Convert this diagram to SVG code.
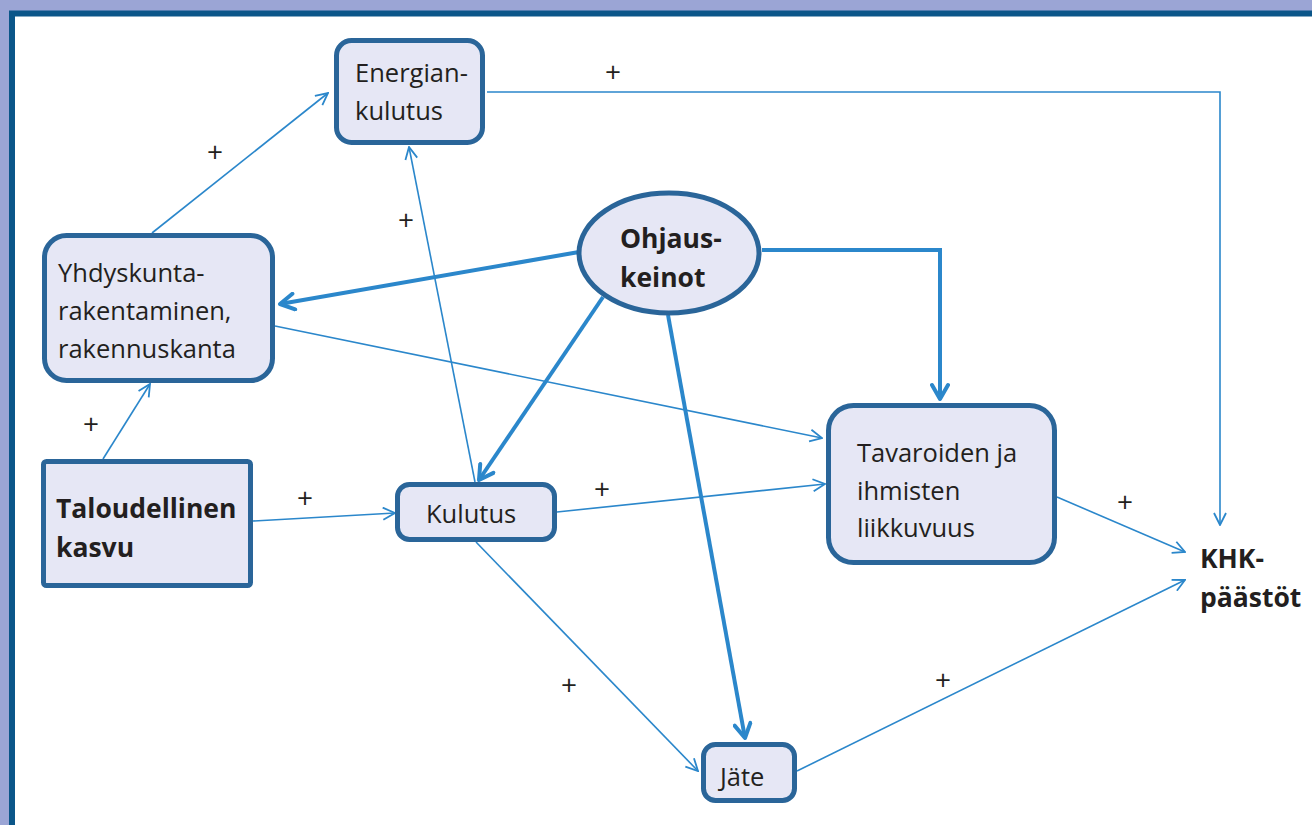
<svg xmlns="http://www.w3.org/2000/svg" width="1312" height="825" viewBox="0 0 1312 825">
<defs>
<style>
.box{fill:#E6E7F5;stroke:#2A6599;stroke-width:5}
.t{font-family:"Open Sans","Liberation Sans",sans-serif;font-size:25.5px;fill:#231F20}
.b{font-weight:bold;font-size:26.5px}
.p{font-family:"Open Sans","Liberation Sans",sans-serif;font-size:28px;fill:#231F20;text-anchor:middle}
.thin{fill:none;stroke:#2B87CB;stroke-width:1.6;marker-end:url(#ah)}
.thick{fill:none;stroke:#2B87CB;stroke-width:4;marker-end:url(#ahb)}
</style>
<marker id="ah" markerUnits="userSpaceOnUse" viewBox="0 0 14 14" refX="13" refY="7" markerWidth="14" markerHeight="14" orient="auto">
<path d="M1,1 L13,7 L1,13" fill="none" stroke="#2B87CB" stroke-width="1.8"/>
</marker>
<marker id="ahb" markerUnits="userSpaceOnUse" viewBox="0 0 20 20" refX="17" refY="10" markerWidth="20" markerHeight="20" orient="auto">
<path d="M3,2 L17,10 L3,18" fill="none" stroke="#2B87CB" stroke-width="4" stroke-linecap="round" stroke-linejoin="round"/>
</marker>
</defs>
<rect x="0" y="0" width="1312" height="825" fill="#9BA5D5"/>
<rect x="12" y="13.5" width="1400" height="900" fill="#FFFFFF" stroke="#0B5689" stroke-width="6"/>

<g id="connectors">
<path class="thin" d="M487,92 H1220 V525"/>
<path class="thin" d="M152,233 L328,93"/>
<path class="thin" d="M103,459 L150,384"/>
<path class="thin" d="M253,521 L395,513"/>
<path class="thin" d="M475,482 L409,147"/>
<path class="thin" d="M275,326 L822,438"/>
<path class="thin" d="M557,512 L825,484"/>
<path class="thin" d="M476,542 L698,771"/>
<path class="thin" d="M1057,497 L1185,552"/>
<path class="thin" d="M797,771 L1185,580"/>
<path class="thick" d="M579,252 L280,304"/>
<path class="thick" d="M762,250 H940 V399"/>
<path class="thick" d="M603,297 L479,480"/>
<path class="thick" d="M668,315 L745,738"/>
<text class="p" x="613" y="82">+</text>
<text class="p" x="215" y="162">+</text>
<text class="p" x="91" y="434">+</text>
<text class="p" x="305" y="508">+</text>
<text class="p" x="406" y="230">+</text>
<text class="p" x="602" y="499">+</text>
<text class="p" x="569" y="695">+</text>
<text class="p" x="1125" y="512">+</text>
<text class="p" x="943" y="690">+</text>
</g>

<g id="energiankulutus">
<rect class="box" x="336.5" y="40.5" width="146" height="102" rx="15"/>
<text class="t" x="355" y="82">Energian-</text>
<text class="t" x="355" y="120">kulutus</text>
</g>
<g id="yhdyskunta">
<rect class="box" x="44.5" y="235.5" width="228" height="145" rx="22"/>
<text class="t" x="58" y="282">Yhdyskunta-</text>
<text class="t" x="58" y="320">rakentaminen,</text>
<text class="t" x="58" y="358">rakennuskanta</text>
</g>
<g id="taloudellinen">
<rect class="box" x="43.5" y="461.5" width="207" height="124" rx="3"/>
<text class="t b" x="56" y="518">Taloudellinen</text>
<text class="t b" x="56" y="557">kasvu</text>
</g>
<g id="kulutus">
<rect class="box" x="397.5" y="484.5" width="157" height="55" rx="12"/>
<text class="t" x="426" y="523">Kulutus</text>
</g>
<g id="ohjauskeinot">
<ellipse class="box" cx="669" cy="253" rx="90" ry="60"/>
<text class="t b" x="620" y="248">Ohjaus-</text>
<text class="t b" x="620" y="287">keinot</text>
</g>
<g id="tavaroiden">
<rect class="box" x="828.5" y="405.5" width="226" height="157" rx="25"/>
<text class="t" x="857" y="462">Tavaroiden ja</text>
<text class="t" x="857" y="500">ihmisten</text>
<text class="t" x="857" y="537">liikkuvuus</text>
</g>
<g id="jate">
<rect class="box" x="703.5" y="744.5" width="91" height="56" rx="12"/>
<text class="t" x="720" y="786">Jäte</text>
</g>
<g id="khk">
<text class="t b" x="1200" y="568">KHK-</text>
<text class="t b" x="1200" y="607">päästöt</text>
</g>
</svg>
